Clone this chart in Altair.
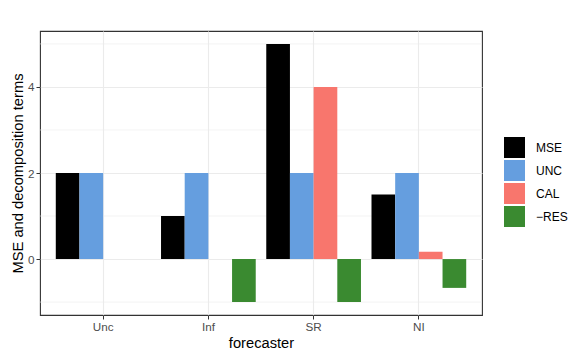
import altair as alt
import pandas as pd

forecasters = ["Unc", "Inf", "SR", "NI"]
terms = ["MSE", "UNC", "CAL", "\u2212RES"]
mse = [2, 1, 5, 1.5]
unc = [2, 2, 2, 2]
cal = [0, 0, 4, 0.17]
res = [0, -1, -1, -0.67]
colors = ["#000000", "#659EDF", "#F8766D", "#3A8A30"]
minor_breaks = [-1, 1, 3, 5]
major_breaks = [0, 2, 4]

rows = []
for i, f in enumerate(forecasters):
    for t, vals in zip(terms, [mse, unc, cal, res]):
        rows.append({"forecaster": f, "term": t, "value": vals[i]})
df = pd.DataFrame(rows)

font = "Liberation Sans"
yscale = alt.Scale(domain=[-1.3, 5.3], nice=False, zero=False)

minor = alt.Chart(pd.DataFrame({"v": minor_breaks})).mark_rule(
    color="#EBEBEB", strokeWidth=0.6
).encode(y=alt.Y("v:Q", scale=yscale))

bars = alt.Chart(df).mark_bar(strokeWidth=0).encode(
    x=alt.X(
        "forecaster:N",
        sort=forecasters,
        scale=alt.Scale(paddingInner=0.1, paddingOuter=0.15),
        axis=alt.Axis(
            title="forecaster", labelAngle=0, grid=True, gridColor="#EBEBEB",
            gridWidth=1.1, bandPosition=0.5, domain=False, tickColor="#333333",
            tickSize=4, labelPadding=2, labelColor="#4D4D4D", labelFontSize=11.7,
            titleFontSize=14.7, titleFontWeight="normal", titlePadding=3,
            labelFont=font, titleFont=font,
        ),
    ),
    xOffset=alt.XOffset("term:N", sort=terms, scale=alt.Scale(paddingInner=0, paddingOuter=0)),
    y=alt.Y(
        "value:Q",
        stack=None,
        scale=yscale,
        axis=alt.Axis(
            title="MSE and decomposition terms", values=major_breaks, grid=True,
            gridColor="#EBEBEB", gridWidth=1.1, domain=False, tickColor="#333333",
            tickSize=4, labelPadding=2, labelColor="#4D4D4D", labelFontSize=11.7,
            titleFontSize=14.7, titleFontWeight="normal", titlePadding=2,
            labelFont=font, titleFont=font,
        ),
    ),
    y2=alt.datum(0),
    color=alt.Color(
        "term:N", sort=terms,
        scale=alt.Scale(domain=terms, range=colors),
        legend=alt.Legend(
            title=None, orient="none", legendX=464, legendY=106,
            symbolType="square", symbolSize=441, symbolStrokeWidth=0,
            symbolOpacity=1, rowPadding=2, labelOffset=11, labelFontSize=12,
            labelFont=font, labelColor="#000000", padding=0,
        ),
    ),
)

chart = alt.layer(minor, bars).properties(
    width=442, height=284,
    autosize=alt.AutoSizeParams(type="none"),
    padding={"left": 32, "top": 23, "right": 91, "bottom": 35},
).configure_view(stroke="#333333", strokeWidth=1.1)

chart.save("out.html", embed_options={"renderer": "svg", "actions": False})
